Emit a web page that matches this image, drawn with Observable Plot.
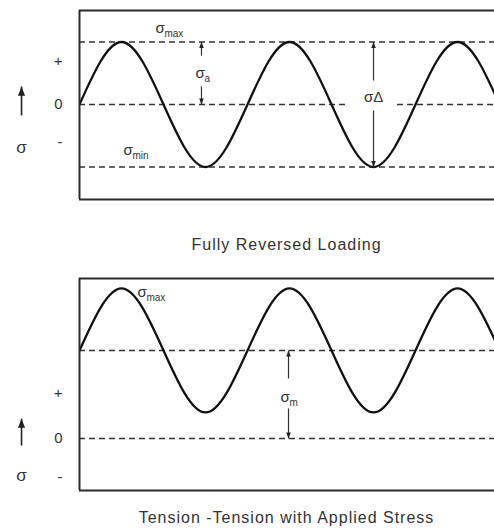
<!DOCTYPE html>
<html><head><meta charset="utf-8">
<script src="https://cdn.jsdelivr.net/npm/d3@7"></script>
<script src="https://cdn.jsdelivr.net/npm/@observablehq/plot@0.6"></script>
<style>
body{margin:0;background:#fff;width:494px;height:530px;overflow:hidden;font-family:"Liberation Sans",Arial,sans-serif;}
.cap{width:494px;text-align:center;font-size:16px;letter-spacing:1px;color:#333;padding-left:79px;box-sizing:border-box;white-space:nowrap;}
svg{display:block}
</style></head><body><div id="c"></div><script>
// data (x in load cycles, y in stress-amplitude units)
const cycles = [0,0.25,0.5,0.75,1,1.25,1.5,1.75,2,2.25,2.5];
const reversedStress = [0,1,0,-1,0,1,0,-1,0,1,0];
const tensionStress = [1.42,2.42,1.42,0.42,1.42,2.42,1.42,0.42,1.42,2.42,1.42];
const axisSymbols = ["+","0","-"];
const reversedTicks = [0.70,0,-0.61];
const tensionTicks = [0.73,0,-0.63];
const captions = ["Fully Reversed Loading","Tension -Tension with Applied Stress"];
const cycleSpan = [0,2.47];
const reversedSpan = [-1.52,1.504];
const tensionSpan = [-0.839,2.58];
const reversedLevels = [{level:1,from:0,to:2.47},{level:-1,from:0,to:2.47},{level:0,from:0,to:1.60},{level:0,from:1.893,to:2.47}];
const tensionLevels = [{level:1.42,from:0,to:2.47},{level:0,from:0,to:2.47}];
const reversedLabels = [{x:0.452,y:1.216,t:"σ",sub:"max"},{x:0.69,y:0.496,t:"σ",sub:"a"},{x:0.262,y:-0.736,t:"σ",sub:"min"}];
const reversedCentered = [{x:1.75,y:0.112,t:"σΔ"}];
const tensionLabels = [{x:0.345,y:2.355,t:"σ",sub:"max"},{x:1.196,y:0.66,t:"σ",sub:"m"}];
const tensionCentered = [];
const reversedArrows = [{x:0.726,from:0.78,to:1},{x:0.726,from:0.29,to:0},{x:1.75,from:0.384,to:1},{x:1.75,from:-0.096,to:-1}];
const tensionArrows = [{x:1.244,from:0.968,to:1.42},{x:1.244,from:0.484,to:0}];
const reversedSide = [{x:-0.345,from:-0.176,to:0.288,sigma:-0.69}];
const tensionSide = [{x:-0.345,from:-0.113,to:0.32,sigma:-0.6}];

const headUp = {draw(ctx,size){const s=Math.sqrt(size);ctx.moveTo(0,0);ctx.lineTo(s*0.5,s*1.3);ctx.lineTo(-s*0.5,s*1.3);ctx.closePath();}};
const headDown = {draw(ctx,size){const s=Math.sqrt(size);ctx.moveTo(0,0);ctx.lineTo(s*0.5,-s*1.3);ctx.lineTo(-s*0.5,-s*1.3);ctx.closePath();}};

function panel({values, span, ticks, levels, labels, centered, arrows, side, height, marginTop, marginBottom}) {
  const pts = cycles.map((c,i)=>({c, v: values[i]}));
  const ink = "#2a2a2a";
  return Plot.plot({
    width: 494, height, marginLeft: 79, marginRight: 0, marginTop, marginBottom,
    style: {fontFamily: "'Liberation Sans', Arial, sans-serif", fontSize: "15px", color: "#333", background: "#fff"},
    x: {domain: cycleSpan, axis: null},
    y: {domain: span, label: null},
    marks: [
      Plot.ruleY(levels, {y: "level", x1: "from", x2: "to", stroke: "#333", strokeWidth: 1.4, strokeDasharray: "6,4"}),
      Plot.line(pts, {x: "c", y: "v", curve: "natural", stroke: "#111", strokeWidth: 2.3, clip: true}),
      Plot.link(arrows, {x1: "x", x2: "x", y1: "from", y2: "to", stroke: "#333", strokeWidth: 1.2}),
      Plot.dot(arrows.filter(d=>d.to>d.from), {x: "x", y: "to", symbol: headUp, r: 2.6, fill: "#222", stroke: null}),
      Plot.dot(arrows.filter(d=>d.to<d.from), {x: "x", y: "to", symbol: headDown, r: 2.6, fill: "#222", stroke: null}),
      Plot.text(labels, {x: "x", y: "y", text: "t", textAnchor: "start", fontSize: 15, fill: "#333"}),
      Plot.text(labels, {x: "x", y: "y", text: "sub", textAnchor: "start", dx: 9, dy: 5, fontSize: 10, fill: "#333"}),
      Plot.text(centered, {x: "x", y: "y", text: "t", fontSize: 15, fill: "#333"}),
      Plot.link(side, {x1: "x", x2: "x", y1: "from", y2: "to", stroke: "#222", strokeWidth: 1.6}),
      Plot.dot(side, {x: "x", y: "to", symbol: headUp, r: 4, fill: "#222", stroke: null}),
      Plot.text(side, {x: "x", y: "sigma", text: () => "σ", fontSize: 17, fill: "#333"}),
      Plot.axisY(ticks, {tickFormat: d => axisSymbols[ticks.indexOf(d)], tickSize: 0, tickPadding: 17, fontSize: 15, fill: "#333", label: null}),
      Plot.ruleY(span, {stroke: ink, strokeWidth: 2}),
      Plot.ruleX([cycleSpan[0]], {stroke: ink, strokeWidth: 2})
    ]
  });
}

const root = document.getElementById("c");
root.append(panel({values: reversedStress, span: reversedSpan, ticks: reversedTicks, levels: reversedLevels, labels: reversedLabels, centered: reversedCentered, arrows: reversedArrows, side: reversedSide, height: 226, marginTop: 10, marginBottom: 27}));
const c1 = document.createElement("div"); c1.className = "cap"; c1.style.height = "38px"; c1.style.lineHeight = "38px"; c1.textContent = captions[0]; root.append(c1);
root.append(panel({values: tensionStress, span: tensionSpan, ticks: tensionTicks, levels: tensionLevels, labels: tensionLabels, centered: tensionCentered, arrows: tensionArrows, side: tensionSide, height: 240, marginTop: 14, marginBottom: 14}));
const c2 = document.createElement("div"); c2.className = "cap"; c2.style.height = "28px"; c2.style.lineHeight = "28px"; c2.textContent = captions[1]; root.append(c2);
</script></body></html>
